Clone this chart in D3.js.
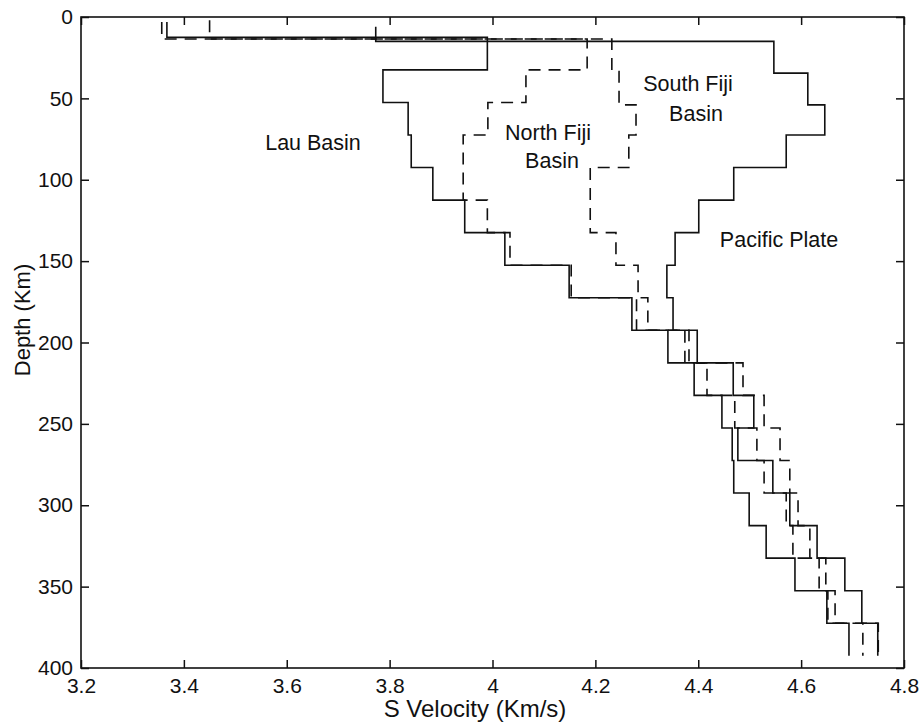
<!DOCTYPE html>
<html>
<head>
<meta charset="utf-8">
<script src="https://cdn.jsdelivr.net/npm/d3@7"></script>
<style>
  body { margin: 0; background: #fff; }
  text { font-family: "Liberation Sans", Arial, Helvetica, sans-serif; fill: #111; }
</style>
</head>
<body>
<svg id="chart" width="921" height="723"></svg>
<script>
// layer tops (km) and S velocities (km/s); last depth is the bottom
var lauDepth = [3, 12.5, 32.5, 52.5, 72.5, 92.5, 112.5, 132.5, 152.5, 172.5, 192.5, 212.5, 232.5, 252.5, 272.5, 292.5, 312.5, 332.5, 352.5, 372.5, 392.5]
var lauVel   = [3.367, 3.99, 3.787, 3.836, 3.842, 3.884, 3.946, 4.024, 4.149, 4.271, 4.341, 4.392, 4.446, 4.466, 4.469, 4.499, 4.532, 4.588, 4.650, 4.693]

var pacDepth = [6, 15, 34.5, 54, 72.5, 92.5, 112.5, 132.5, 152.5, 172.5, 192.5, 212.5, 232.5, 252.5, 272.5, 292.5, 312.5, 332.5, 352.5, 372.5, 392.5]
var pacVel   = [3.773, 4.547, 4.613, 4.646, 4.571, 4.469, 4.401, 4.355, 4.339, 4.351, 4.398, 4.468, 4.508, 4.477, 4.545, 4.578, 4.631, 4.685, 4.718, 4.749]

var nfDepth = [3, 13.5, 32.5, 52.5, 72.5, 92.5, 112.5, 132.5, 152.5, 172.5, 192.5, 212.5, 232.5, 252.5, 272.5, 292.5, 312.5, 332.5, 352.5, 372.5, 392.5]
var nfVel   = [3.357, 4.184, 4.065, 3.991, 3.943, 3.943, 3.99, 4.034, 4.153, 4.28, 4.374, 4.417, 4.471, 4.514, 4.528, 4.571, 4.584, 4.635, 4.652, 4.72]

var sfDepth = [2, 13.5, 33.5, 54, 72.5, 92.5, 112.5, 132.5, 152.5, 172.5, 192.5, 212.5, 232.5, 252.5, 272.5, 292.5, 312.5, 332.5, 352.5, 372.5, 392.5]
var sfVel   = [3.45, 4.232, 4.246, 4.279, 4.265, 4.19, 4.19, 4.24, 4.283, 4.302, 4.382, 4.487, 4.528, 4.559, 4.578, 4.594, 4.617, 4.648, 4.666, 4.75]

var xTicks = [3.2, 3.4, 3.6, 3.8, 4.0, 4.2, 4.4, 4.6, 4.8]
var xTickLabels = ["3.2", "3.4", "3.6", "3.8", "4", "4.2", "4.4", "4.6", "4.8"]
var yTicks = [0, 50, 100, 150, 200, 250, 300, 350, 400]

var profiles = [
  { depth: lauDepth, vel: lauVel, dashed: false },
  { depth: pacDepth, vel: pacVel, dashed: false },
  { depth: nfDepth,  vel: nfVel,  dashed: true },
  { depth: sfDepth,  vel: sfVel,  dashed: true }
]

var plotLeft = 81, plotRight = 904, plotTop = 17, plotBottom = 668

var x = d3.scaleLinear().domain([3.2, 4.8]).range([plotLeft, plotRight])
var y = d3.scaleLinear().domain([0, 400]).range([plotTop, plotBottom])

var svg = d3.select("#chart")

// step outline of one profile
function stepPoints(p) {
  var pts = []
  for (var i = 0; i < p.vel.length; i++) {
    pts.push([p.vel[i], p.depth[i]])
    pts.push([p.vel[i], p.depth[i + 1]])
  }
  return pts
}

var line = d3.line()
  .x(d => x(d[0]))
  .y(d => y(d[1]))

svg.append("g")
  .selectAll("path")
  .data(profiles)
  .join("path")
  .attr("d", d => line(stepPoints(d)))
  .attr("fill", "none")
  .attr("stroke", "#111")
  .attr("stroke-width", 1.6)
  .attr("stroke-dasharray", d => d.dashed ? "12,8" : null)

// axes, ticks pointing inward on all four sides
svg.append("g")
  .attr("transform", "translate(0," + plotBottom + ")")
  .call(d3.axisBottom(x).tickValues(xTicks).tickSize(-8).tickSizeOuter(0)
    .tickPadding(10).tickFormat((d, i) => xTickLabels[i]))

svg.append("g")
  .attr("transform", "translate(0," + plotTop + ")")
  .call(d3.axisTop(x).tickValues(xTicks).tickSize(-8).tickSizeOuter(0).tickFormat(""))

svg.append("g")
  .attr("transform", "translate(" + plotLeft + ",0)")
  .call(d3.axisLeft(y).tickValues(yTicks).tickSize(-8).tickSizeOuter(0).tickPadding(8))

svg.append("g")
  .attr("transform", "translate(" + plotRight + ",0)")
  .call(d3.axisRight(y).tickValues(yTicks).tickSize(-8).tickSizeOuter(0).tickFormat(""))

svg.selectAll(".domain").remove()
svg.selectAll(".tick line").attr("stroke", "#111").attr("stroke-width", 1.5)
svg.selectAll(".tick text").attr("font-size", 21).attr("font-family", null)

svg.append("rect")
  .attr("x", plotLeft).attr("y", plotTop)
  .attr("width", plotRight - plotLeft).attr("height", plotBottom - plotTop)
  .attr("fill", "none")
  .attr("stroke", "#111")
  .attr("stroke-width", 1.6)

// axis titles
svg.append("text")
  .attr("x", 475).attr("y", 717)
  .attr("text-anchor", "middle")
  .attr("font-size", 24)
  .text("S Velocity (Km/s)")

svg.append("text")
  .attr("transform", "translate(30,320) rotate(-90)")
  .attr("text-anchor", "middle")
  .attr("font-size", 22)
  .text("Depth (Km)")

// profile names
var notes = [
  { t: "Lau Basin", x: 313, y: 150 },
  { t: "North Fiji", x: 548, y: 140 },
  { t: "Basin", x: 552, y: 168 },
  { t: "South Fiji", x: 688, y: 91 },
  { t: "Basin", x: 696, y: 121 },
  { t: "Pacific Plate", x: 779, y: 247 }
]

svg.append("g")
  .selectAll("text")
  .data(notes)
  .join("text")
  .attr("x", d => d.x).attr("y", d => d.y)
  .attr("text-anchor", "middle")
  .attr("font-size", 21.5)
  .text(d => d.t)
</script>
</body>
</html>
